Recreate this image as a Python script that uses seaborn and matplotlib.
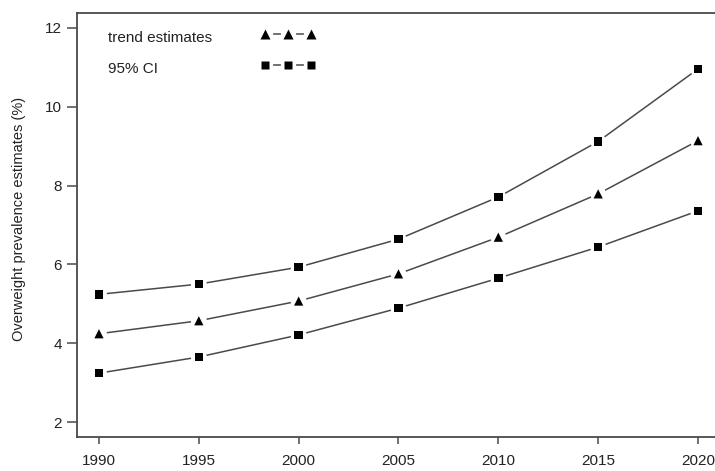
import matplotlib
matplotlib.use("Agg")
import matplotlib.pyplot as plt
from matplotlib.lines import Line2D
import seaborn as sns

# values
years = [1990, 1995, 2000, 2005, 2010, 2015, 2020]
trend = [4.24, 4.57, 5.07, 5.76, 6.69, 7.79, 9.14]
ci_upper = [5.24, 5.50, 5.93, 6.64, 7.71, 9.12, 10.96]
ci_lower = [3.24, 3.65, 4.21, 4.89, 5.65, 6.44, 7.36]
y_ticks = [2, 4, 6, 8, 10, 12]
y_label = "Overweight prevalence estimates (%)"
legend_labels = ["trend estimates", "95% CI"]

sns.set_style("ticks")
plt.rcParams['font.family'] = ['Liberation Sans', 'DejaVu Sans']

LINE = '#4a4a4a'
TXT = '#222222'

fig = plt.figure(figsize=(7.15, 4.71), dpi=100)
ax = fig.add_axes([77 / 715, 1 - 437 / 471, 638 / 715, 424 / 471])


def draw_series(vals, marker, size):
    # gray connecting line, white halo to open a gap, black marker on top
    sns.lineplot(x=years, y=vals, ax=ax, color=LINE, linewidth=1.1, zorder=2)
    sns.scatterplot(x=years, y=vals, ax=ax, marker='o', s=130, color='white',
                    edgecolor='none', zorder=3)
    sns.scatterplot(x=years, y=vals, ax=ax, marker=marker, s=size, color='black',
                    edgecolor='none', zorder=4)


draw_series(ci_upper, 's', 36)
draw_series(trend, '^', 44)
draw_series(ci_lower, 's', 36)

ax.set_xlim(1988.9, 2020.85)
ax.set_ylim(1.62, 12.38)
ax.set_xticks(years)
ax.set_yticks(y_ticks)
ax.set_xlabel("")
ax.set_ylabel(y_label, fontsize=10.5, color=TXT)
ax.yaxis.set_label_coords(-0.08, 0.514)

ax.tick_params(axis='y', length=7, width=1.1, color=LINE, pad=4, labelsize=11, labelcolor=TXT)
ax.tick_params(axis='x', length=5, width=1.1, color=LINE, pad=7, labelsize=11, labelcolor=TXT)
for side in ['left', 'bottom', 'top']:
    ax.spines[side].set_color(LINE)
    ax.spines[side].set_linewidth(1.3)
ax.spines['right'].set_visible(False)


def legend_handle(marker, size):
    line = Line2D([], [], color=LINE, linewidth=1.1)
    halo = Line2D([], [], linestyle='none', marker='o', markersize=11,
                  markerfacecolor='white', markeredgecolor='none')
    mark = Line2D([], [], linestyle='none', marker=marker, markersize=size,
                  markerfacecolor='black', markeredgecolor='none')
    return (line, halo, mark)


leg_kw = dict(loc='center', frameon=False, numpoints=3, handlelength=3.6,
              handletextpad=0, borderpad=0, borderaxespad=0, fontsize=11)
leg1 = ax.legend([legend_handle('^', 6.5)], [''], bbox_to_anchor=(0.3307, 0.947), **leg_kw)
ax.add_artist(leg1)
ax.legend([legend_handle('s', 5.5)], [''], bbox_to_anchor=(0.3307, 0.875), **leg_kw)

ax.text(0.0486, 0.941, legend_labels[0], transform=ax.transAxes, fontsize=11,
        color=TXT, ha='left', va='center')
ax.text(0.0486, 0.868, legend_labels[1], transform=ax.transAxes, fontsize=11,
        color=TXT, ha='left', va='center')

fig.savefig("out.png", dpi=100)
